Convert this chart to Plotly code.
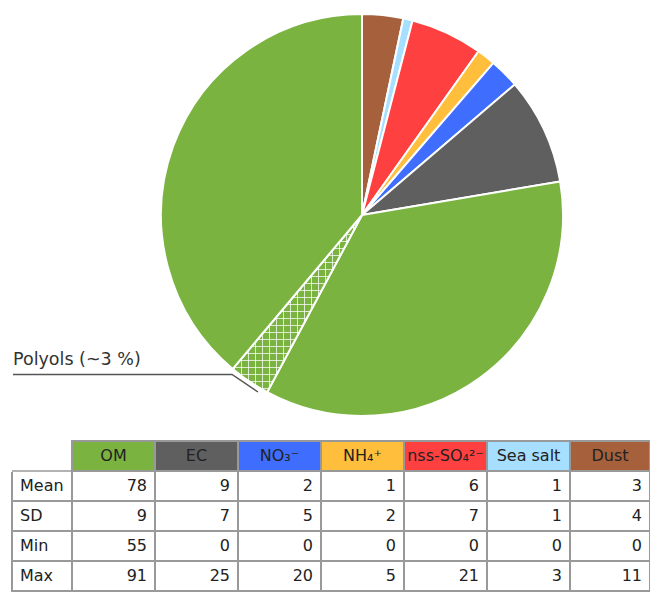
import plotly.graph_objects as go

# ---- data ----
pie_labels = ["Dust", "Sea salt", "nss-SO4", "NH4", "NO3", "EC", "OM", "Polyols", "OM "]
pie_values = [3.3, 0.75, 5.8, 1.5, 2.4, 8.6, 35.5, 3.3, 38.9]

categories = ["OM", "EC", "NO\u2083\u207b", "NH\u2084\u207a",
              "nss-SO\u2084\u00b2\u207b", "Sea\u00a0salt", "Dust"]
row_labels = ["Mean", "SD", "Min", "Max"]
mean_vals = [78, 9, 2, 1, 6, 1, 3]
sd_vals = [9, 7, 5, 2, 7, 1, 4]
min_vals = [55, 0, 0, 0, 0, 0, 0]
max_vals = [91, 25, 20, 5, 21, 3, 11]

# ---- styles ----
GREEN = "#7ab340"
GREY = "#5f5f5f"
BLUE = "#3f6eff"
YELLOW = "#ffbe3c"
RED = "#ff4040"
LBLUE = "#a6dfff"
BROWN = "#a6603b"
cat_colors = [GREEN, GREY, BLUE, YELLOW, RED, LBLUE, BROWN]
pie_colors = [BROWN, LBLUE, RED, YELLOW, BLUE, GREY, GREEN, GREEN, GREEN]
pie_patterns = ["", "", "", "", "", "", "", "+", ""]

W, H = 650, 592
FONT = "DejaVu Sans"
TABLE_LEFT, TABLE_TOP, HEADER_H, ROW_H = 12, 441, 30, 30
COL_W = [60, 83, 83, 83, 83, 83, 83, 80]

fig = go.Figure()

fig.add_trace(go.Pie(
    labels=pie_labels, values=pie_values, sort=False, direction="clockwise",
    rotation=0, textinfo="none", hoverinfo="skip", showlegend=False,
    marker=dict(colors=pie_colors, line=dict(color="white", width=2),
                pattern=dict(shape=pie_patterns, fgcolor="white", bgcolor=pie_colors,
                             size=7, solidity=0.2, fillmode="replace")),
    domain=dict(x=[161 / W, 563 / W], y=[1 - 417 / H, 1 - 13 / H]),
))

# table columns
header_vals = [""] + categories
cell_cols = [row_labels] + [[mean_vals[i], sd_vals[i], min_vals[i], max_vals[i]]
                            for i in range(len(categories))]
LINE = "#999999"
fig.add_trace(go.Table(
    domain=dict(x=[TABLE_LEFT / W, 1.0], y=[0, 1 - TABLE_TOP / H]),
    columnwidth=COL_W,
    header=dict(values=header_vals, fill_color=["white"] + cat_colors,
                line=dict(color=["white"] + [LINE] * 7, width=1.5),
                align="center", height=HEADER_H,
                font=dict(family=FONT, size=16, color="#222")),
    cells=dict(values=cell_cols, fill_color="white",
               line=dict(color=LINE, width=1.5),
               align=["left"] + ["right"] * 7, height=ROW_H,
               font=dict(family=FONT, size=16, color="#222")),
))

# top border of the row-label column (hidden under the blank header cell)
y_line = 1 - (TABLE_TOP + HEADER_H) / H
fig.add_shape(type="line", xref="paper", yref="paper",
              x0=TABLE_LEFT / W, x1=(TABLE_LEFT + COL_W[0]) / W, y0=y_line, y1=y_line,
              line=dict(color=LINE, width=1.5))

# polyols label with leader
fig.add_annotation(text="Polyols (~3 %)", xref="paper", yref="paper",
                   x=11 / W, y=1 - 371 / H, xanchor="left", yanchor="bottom",
                   showarrow=False, font=dict(family=FONT, size=17.5, color="#333"))
fig.add_shape(type="path", xref="paper", yref="paper",
              path=f"M {13/W} {1-374.5/H} L {232/W} {1-374.5/H} L {258/W} {1-392/H}",
              line=dict(color="#555", width=1.5))

fig.update_layout(width=W, height=H, margin=dict(l=0, r=0, t=0, b=0),
                  paper_bgcolor="white", plot_bgcolor="white",
                  font=dict(family=FONT))

fig.write_html("out.html", config={"displayModeBar": False},
               post_script="document.body.style.margin='0';document.body.style.padding='0';")
